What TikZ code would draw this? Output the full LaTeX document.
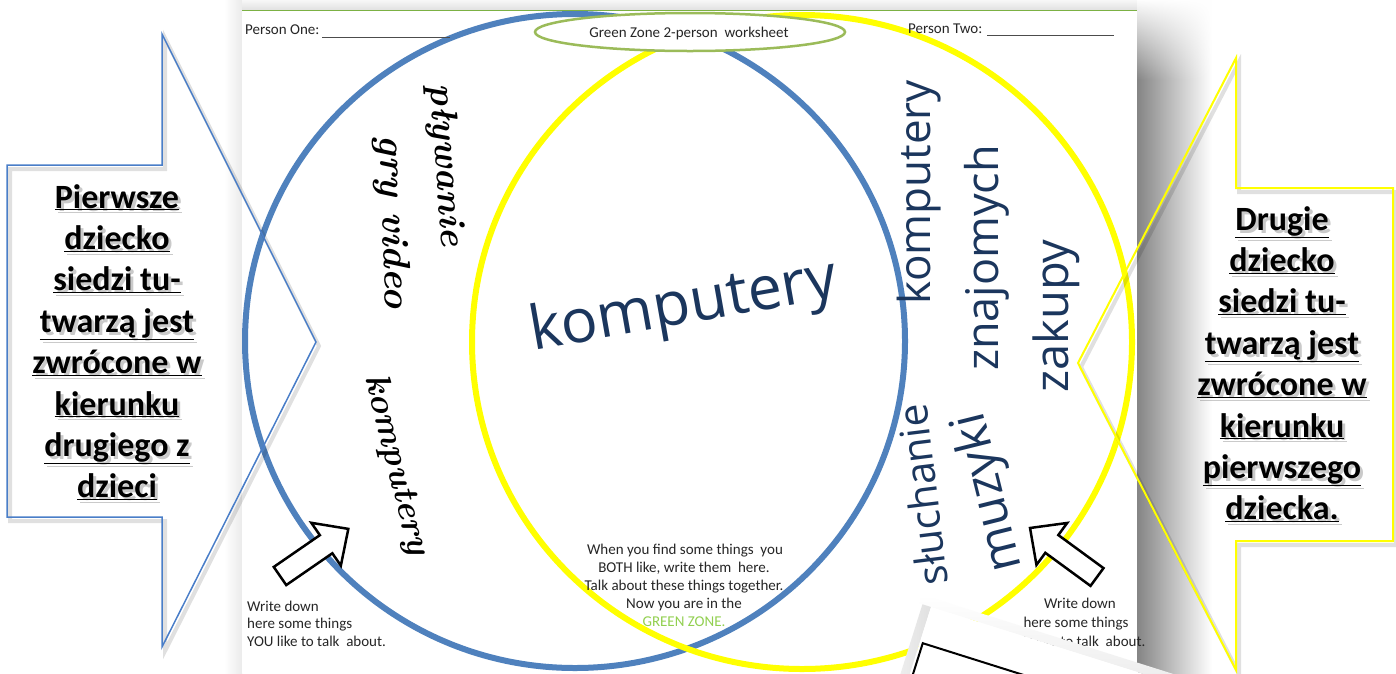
\documentclass[tikz,border=0pt]{standalone}
\usepackage{fontspec}
\newfontfamily\calibri{Carlito}
\newfontfamily\handfont{Open Sans}
\usetikzlibrary{fadings}
\definecolor{pblue}{RGB}{79,129,189}
\definecolor{pyellow}{RGB}{255,255,0}
\definecolor{pgreen}{RGB}{155,187,89}
\definecolor{zgreen}{RGB}{146,208,80}
\definecolor{navy}{RGB}{27,54,93}
\definecolor{cblue}{RGB}{74,126,200}
\tikzset{
  small/.style={font=\calibri\fontsize{15}{18}\selectfont, text=black!85, inner sep=0pt},
  ctext/.style={font=\calibri\bfseries\fontsize{34}{40}\selectfont, text=black, inner sep=0pt, anchor=base},
  cshadow/.style={ctext, text=black!60, opacity=0.35},
  script/.style={font=\bfseries\itshape\fontsize{38}{40}\selectfont, text=black, inner sep=0pt},
  hand/.style={font=\handfont\fontsize{42}{44}\selectfont, text=navy, inner sep=0pt},
  blockarrow/.style={draw=black, fill=white, line width=2.5, line join=miter},
}
\begin{document}
\begin{tikzpicture}[x=1pt,y=-1pt]
\useasboundingbox (0,0) rectangle (1396,673);
\begin{scope}
\clip (0,0) rectangle (1396,673);
% shadows around the page
\shade[left color=white, right color=black!8] (224,0) rectangle (242,673);
\shade[top color=black!3, bottom color=black!12] (242,0) rectangle (1137,10);
\shade[left color=black!48, right color=white] (1137,0) rectangle (1212,673);
\fill[white, path fading=south] (1137,-1) rectangle (1216,80);
% page
\fill[white] (242,10) rectangle (1137,673);
\draw[zgreen!85!black, line width=1.5] (242,10.5) -- (1137,10.5);

% circles
\draw[pblue, line width=6] (575,341) ellipse [x radius=330, y radius=327];
\draw[pyellow, line width=6] (802,342) ellipse [x radius=330, y radius=327];

% title ellipse
\draw[pgreen, line width=2.5, fill=white] (690,32) ellipse [x radius=155, y radius=19];
\node[small] (title) at (689,33) {Green Zone 2-person\ \ worksheet};

% person fields
\node[small, anchor=base west] (p1) at (245,34) {Person One:};
\coordinate (p1a) at (322,37);
\coordinate (p1b) at (450,37);
\draw[black!70, line width=1] (p1a) -- (p1b);
\node[small, anchor=base west] (p2) at (908,33) {Person Two:};
\coordinate (p2a) at (987,35);
\coordinate (p2b) at (1114,35);
\draw[black!70, line width=1] (p2a) -- (p2b);

% handwriting left
\node[script, rotate=-86, font=\bfseries\itshape\fontsize{37}{40}\selectfont] (pl) at (445,165) {pływanie};
\node[script, rotate=-88] (gv) at (392,222) {gry video};
\node[script, rotate=-76, font=\bfseries\itshape\fontsize{35}{38}\selectfont] (kl) at (396,465) {komputery};

% handwriting centre
\node[hand, rotate=10, font=\handfont\fontsize{61}{63}\selectfont] (kc) at (684,308) {komputery};

% handwriting right
\node[hand, rotate=90, font=\handfont\fontsize{44}{46}\selectfont] (kr) at (919,192) {komputery};
\node[hand, rotate=90, font=\handfont\fontsize{45}{46}\selectfont] (zn) at (987,258) {znajomych};
\node[hand, rotate=90, font=\handfont\fontsize{47}{49}\selectfont] (zk) at (1056,316) {zakupy};
\node[hand, rotate=97, font=\handfont\fontsize{41}{43}\selectfont] (sl) at (922,495) {słuchanie};
\node[hand, rotate=104, font=\handfont\fontsize{49}{51}\selectfont] (mu) at (990,492) {muzyki};

% block arrows
\draw[blockarrow, shift={(280,576)}, rotate=34.6]
  (0,-11) -- (56,-11) -- (56,-26) -- (83,0) -- (56,26) -- (56,11) -- (0,11) -- cycle;
\draw[blockarrow, shift={(1097,577)}, rotate=143.8]
  (0,-11) -- (56,-11) -- (56,-26) -- (83,0) -- (56,26) -- (56,11) -- (0,11) -- cycle;

% bottom texts
\node[small, anchor=base west] (wl1) at (247,611) {Write down};
\node[small, anchor=base west] (wl2) at (247,628) {here some things};
\node[small, anchor=base west] (wl3) at (247,646) {YOU like to talk\ \ about.};

\node[small, anchor=base] (c1) at (685,554) {When you find some things\ \ you};
\node[small, anchor=base] (c2) at (684,572) {BOTH like, write them\ \ here.};
\node[small, anchor=base] (c3) at (684,590) {Talk about these things together.};
\node[small, anchor=base] (c4) at (684,608) {Now you are in the};
\node[small, anchor=base, text=zgreen] (c5) at (684,626) {GREEN ZONE.};

\node[small, anchor=base] (wr1) at (1080,608) {Write down};
\node[small, anchor=base] (wr2) at (1076,627) {here some things};
\node[small, anchor=base] (wr3) at (1076,646) {YOU like to talk\ \ about.};

% second paper, bottom right
\begin{scope}[shift={(931,607)}, rotate=-17.5]
  \shade[top color=white, bottom color=black!14] (-12,-9) rectangle (520,0);
  \shade[left color=white, right color=black!12] (-9,0) rectangle (0,220);
  \fill[white] (0,0) rectangle (520,220);
  \coordinate (ib) at (3,37);
  \coordinate (ir) at (500,37);
  \coordinate (id) at (3,220);
  \draw[black, line width=2] (ir) -- (ib) -- (id);
\end{scope}

% left callout
\draw[black, opacity=0.12, line width=4, shift={(3,4)}]
  (7,165) -- (162,165) -- (162,34) -- (316,342) -- (162,647) -- (162,517) -- (7,517) -- cycle;
\draw[cblue, line width=1.5]
  (7,165) -- (162,165) -- (162,34) -- (316,342) -- (162,647) -- (162,517) -- (7,517) -- cycle;
% right callout
\draw[black, opacity=0.12, line width=4, shift={(3,4)}]
  (1393,188) -- (1236,188) -- (1236,58) -- (1078,363) -- (1236,670) -- (1236,541) -- (1393,541) -- cycle;
\draw[pyellow, line width=2]
  (1393,188) -- (1236,188) -- (1236,58) -- (1078,363) -- (1236,670) -- (1236,541) -- (1393,541) -- cycle;

% callout texts
\foreach \t [count=\i] in {Pierwsze, dziecko, siedzi tu-, twarzą jest, zwrócone w, kierunku, drugiego z, dzieci} {
  \node[cshadow] (ls\i) at (120,{211+(\i-1)*41.4}) {\underline{\t}};
  \node[ctext] (l\i) at (117,{208+(\i-1)*41.4}) {\underline{\t}};
}
\foreach \t [count=\i] in {Drugie, dziecko, siedzi tu-, twarzą jest, zwrócone w, kierunku, pierwszego, dziecka.} {
  \node[cshadow] (rs\i) at (1285,{233+(\i-1)*41.4}) {\underline{\t}};
  \node[ctext] (r\i) at (1282,{230+(\i-1)*41.4}) {\underline{\t}};
}
\end{scope}
\end{tikzpicture}
\end{document}
